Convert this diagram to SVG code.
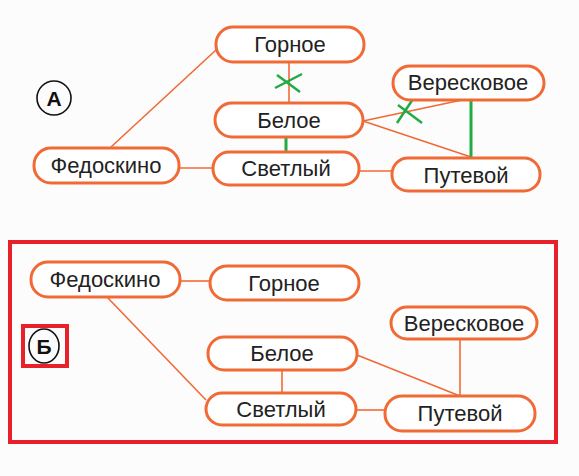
<svg xmlns="http://www.w3.org/2000/svg" width="579" height="476" viewBox="0 0 579 476">
<style>
.n rect{fill:#fff;stroke:#f06a35;stroke-width:3}
.n text{font-family:"Liberation Sans",Arial,sans-serif;font-size:22px;fill:#222;text-anchor:middle}
.e line{stroke:#f06a35;stroke-width:1.6}
.g line{stroke:#22aa44;stroke-width:3}
.x line{stroke:#22aa44;stroke-width:2.5}
.lbl text{font-family:"Liberation Sans",Arial,sans-serif;font-size:21px;font-weight:bold;fill:#111;text-anchor:middle}
</style>
<rect width="579" height="476" fill="#fdfcfd"/>
<g id="connectors">
<g class="e">
<line x1="111" y1="147" x2="216" y2="50"/>
<line x1="289" y1="62" x2="289" y2="103"/>
<line x1="363" y1="121" x2="462" y2="100"/>
<line x1="363" y1="121" x2="471" y2="157"/>
<line x1="179" y1="168" x2="213" y2="168"/>
<line x1="359" y1="171" x2="392" y2="171"/>
<line x1="180" y1="281" x2="210" y2="281"/>
<line x1="107" y1="297" x2="206" y2="400"/>
<line x1="282" y1="370" x2="282" y2="393"/>
<line x1="357" y1="355" x2="460" y2="396"/>
<line x1="460" y1="338" x2="460" y2="396"/>
<line x1="356" y1="410" x2="385" y2="410"/>
</g>
<g class="g">
<line x1="471" y1="100" x2="471" y2="158"/>
<line x1="286" y1="137" x2="286" y2="152"/>
</g>
<g class="x">
<line x1="275" y1="88" x2="302" y2="74"/>
<line x1="277" y1="75" x2="300" y2="92"/>
<line x1="397" y1="123" x2="413" y2="99"/>
<line x1="398" y1="105" x2="422" y2="123"/>
</g>
</g>
<g id="labelA" class="lbl"><circle cx="54" cy="98" r="17" fill="none" stroke="#111" stroke-width="1.6"/><text x="54" y="106">А</text></g>
<g id="a-gornoe" class="n"><rect x="216" y="27" width="148" height="35" rx="17"/><text x="290" y="52">Горное</text></g>
<g id="a-vereskovoe" class="n"><rect x="393" y="66" width="151" height="34" rx="17"/><text x="468" y="90">Вересковое</text></g>
<g id="a-beloe" class="n"><rect x="215" y="103" width="148" height="34" rx="17"/><text x="289" y="128">Белое</text></g>
<g id="a-fedoskino" class="n"><rect x="34" y="148" width="145" height="35" rx="17"/><text x="106" y="173">Федоскино</text></g>
<g id="a-svetly" class="n"><rect x="213" y="152" width="146" height="33" rx="16"/><text x="286" y="176">Светлый</text></g>
<g id="a-putevoy" class="n"><rect x="392" y="158" width="148" height="33" rx="16"/><text x="466" y="183">Путевой</text></g>
<rect x="10" y="242" width="546" height="200" fill="none" stroke="#e8202a" stroke-width="4"/>
<g id="labelB" class="lbl"><rect x="23" y="326" width="44" height="40" fill="none" stroke="#e8202a" stroke-width="4"/><ellipse cx="44" cy="346" rx="15" ry="17" fill="none" stroke="#111" stroke-width="1.6"/><text x="44" y="354">Б</text></g>
<g id="b-fedoskino" class="n"><rect x="31" y="262" width="149" height="35" rx="17"/><text x="105" y="287">Федоскино</text></g>
<g id="b-gornoe" class="n"><rect x="210" y="266" width="149" height="34" rx="17"/><text x="284" y="291">Горное</text></g>
<g id="b-vereskovoe" class="n"><rect x="391" y="307" width="146" height="32" rx="16"/><text x="464" y="331">Вересковое</text></g>
<g id="b-beloe" class="n"><rect x="208" y="337" width="149" height="33" rx="16"/><text x="282" y="361">Белое</text></g>
<g id="b-svetly" class="n"><rect x="206" y="393" width="150" height="32" rx="16"/><text x="281" y="417">Светлый</text></g>
<g id="b-putevoy" class="n"><rect x="385" y="396" width="150" height="35" rx="17"/><text x="460" y="421">Путевой</text></g>
</svg>
